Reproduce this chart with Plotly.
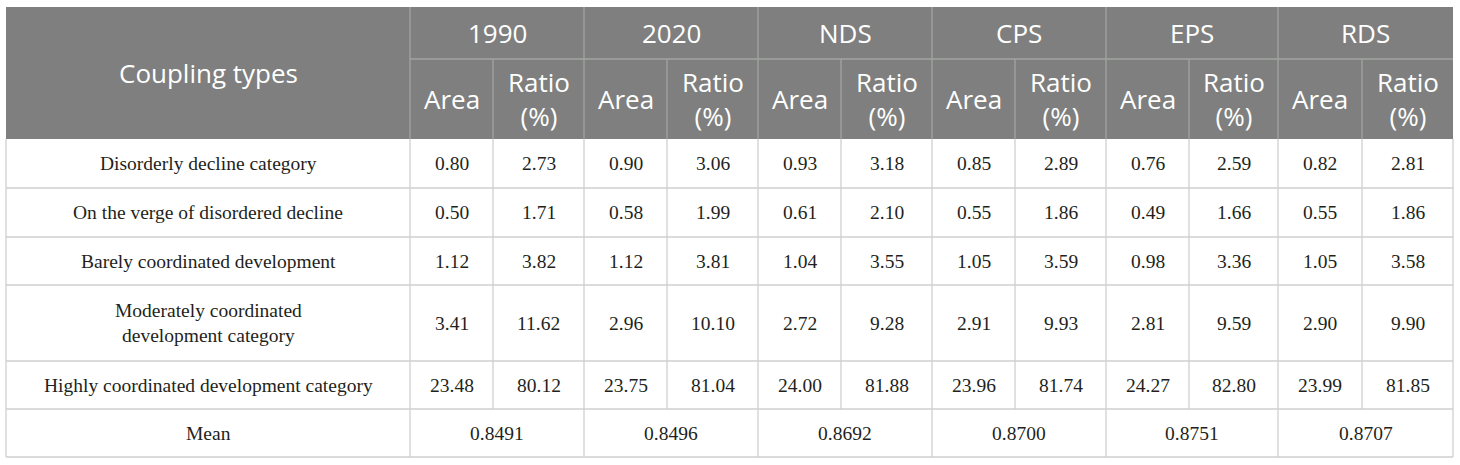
import plotly.graph_objects as go

# table content
scenarios = ["1990", "2020", "NDS", "CPS", "EPS", "RDS"]
sub_headers = ["Area", "Ratio<br>(%)"]
coupling_types = [
    "Disorderly decline category",
    "On the verge of disordered decline",
    "Barely coordinated development",
    "Moderately coordinated<br>development category",
    "Highly coordinated development category",
]
area = [
    ["0.80", "0.90", "0.93", "0.85", "0.76", "0.82"],
    ["0.50", "0.58", "0.61", "0.55", "0.49", "0.55"],
    ["1.12", "1.12", "1.04", "1.05", "0.98", "1.05"],
    ["3.41", "2.96", "2.72", "2.91", "2.81", "2.90"],
    ["23.48", "23.75", "24.00", "23.96", "24.27", "23.99"],
]
ratio = [
    ["2.73", "3.06", "3.18", "2.89", "2.59", "2.81"],
    ["1.71", "1.99", "2.10", "1.86", "1.66", "1.86"],
    ["3.82", "3.81", "3.55", "3.59", "3.36", "3.58"],
    ["11.62", "10.10", "9.28", "9.93", "9.59", "9.90"],
    ["80.12", "81.04", "81.88", "81.74", "82.80", "81.85"],
]
mean_values = ["0.8491", "0.8496", "0.8692", "0.8700", "0.8751", "0.8707"]

# grid geometry (pixels)
col_edges = [6, 410, 493, 584, 667, 758, 841, 932, 1015, 1106, 1189, 1278, 1362, 1453]
row_edges = [7, 59, 139, 188, 237, 285, 361, 409, 457]

HEAD_BG = "#7e7f7e"
HEAD_LINE = "#a3a4a3"
BODY_LINE = "#cfcfcf"
head_font = dict(family="Open Sans", size=26, color="white")
body_font = dict(family="Liberation Serif", size=19.5, color="#231f20")

shapes = []
annotations = []


def line(x0, y0, x1, y1, color):
    shapes.append(dict(type="line", x0=x0, y0=y0, x1=x1, y1=y1,
                       line=dict(color=color, width=1.3), layer="above"))


def text(x0, x1, y0, y1, s, font):
    annotations.append(dict(x=(x0 + x1) / 2, y=(y0 + y1) / 2, text=s, showarrow=False,
                            xanchor="center", yanchor="middle", font=font, align="center"))


# header background
shapes.append(dict(type="rect", x0=col_edges[0], x1=col_edges[-1], y0=row_edges[0], y1=row_edges[2],
                   fillcolor=HEAD_BG, line=dict(width=0), layer="below"))

# header lines
line(col_edges[1], row_edges[1], col_edges[-1], row_edges[1], HEAD_LINE)
for i in range(1, len(col_edges) - 1):
    y_top = row_edges[0] if i % 2 == 1 else row_edges[1]
    line(col_edges[i], y_top, col_edges[i], row_edges[2], HEAD_LINE)

# header text
text(col_edges[0], col_edges[1], row_edges[0], row_edges[2], "Coupling types", head_font)
for k, name in enumerate(scenarios):
    c = 1 + 2 * k
    text(col_edges[c], col_edges[c + 2], row_edges[0], row_edges[1], name, head_font)
    for j, sub in enumerate(sub_headers):
        text(col_edges[c + j], col_edges[c + j + 1], row_edges[1], row_edges[2], sub, head_font)

# body horizontal lines
for r in range(3, len(row_edges)):
    line(col_edges[0], row_edges[r], col_edges[-1], row_edges[r], BODY_LINE)
# body vertical lines
line(col_edges[0], row_edges[2], col_edges[0], row_edges[-1], BODY_LINE)
line(col_edges[-1], row_edges[2], col_edges[-1], row_edges[-1], BODY_LINE)
for i in range(1, len(col_edges) - 1):
    y_end = row_edges[-1] if i % 2 == 1 else row_edges[-2]
    line(col_edges[i], row_edges[2], col_edges[i], y_end, BODY_LINE)

# body text
for r, label in enumerate(coupling_types):
    y0, y1 = row_edges[2 + r], row_edges[3 + r]
    text(col_edges[0], col_edges[1], y0, y1, label, body_font)
    for k in range(len(scenarios)):
        c = 1 + 2 * k
        text(col_edges[c], col_edges[c + 1], y0, y1, area[r][k], body_font)
        text(col_edges[c + 1], col_edges[c + 2], y0, y1, ratio[r][k], body_font)

# mean row
y0, y1 = row_edges[-2], row_edges[-1]
text(col_edges[0], col_edges[1], y0, y1, "Mean", body_font)
for k, v in enumerate(mean_values):
    c = 1 + 2 * k
    text(col_edges[c], col_edges[c + 2], y0, y1, v, body_font)

fig = go.Figure()
fig.update_layout(
    width=1460, height=465,
    margin=dict(l=0, r=0, t=0, b=0),
    plot_bgcolor="white", paper_bgcolor="white",
    xaxis=dict(range=[0, 1460], visible=False, fixedrange=True),
    yaxis=dict(range=[465, 0], visible=False, fixedrange=True),
    shapes=shapes, annotations=annotations,
    showlegend=False,
)
fig.write_html("out.html", config={"displayModeBar": False},
               post_script="document.body.style.margin='0';")
